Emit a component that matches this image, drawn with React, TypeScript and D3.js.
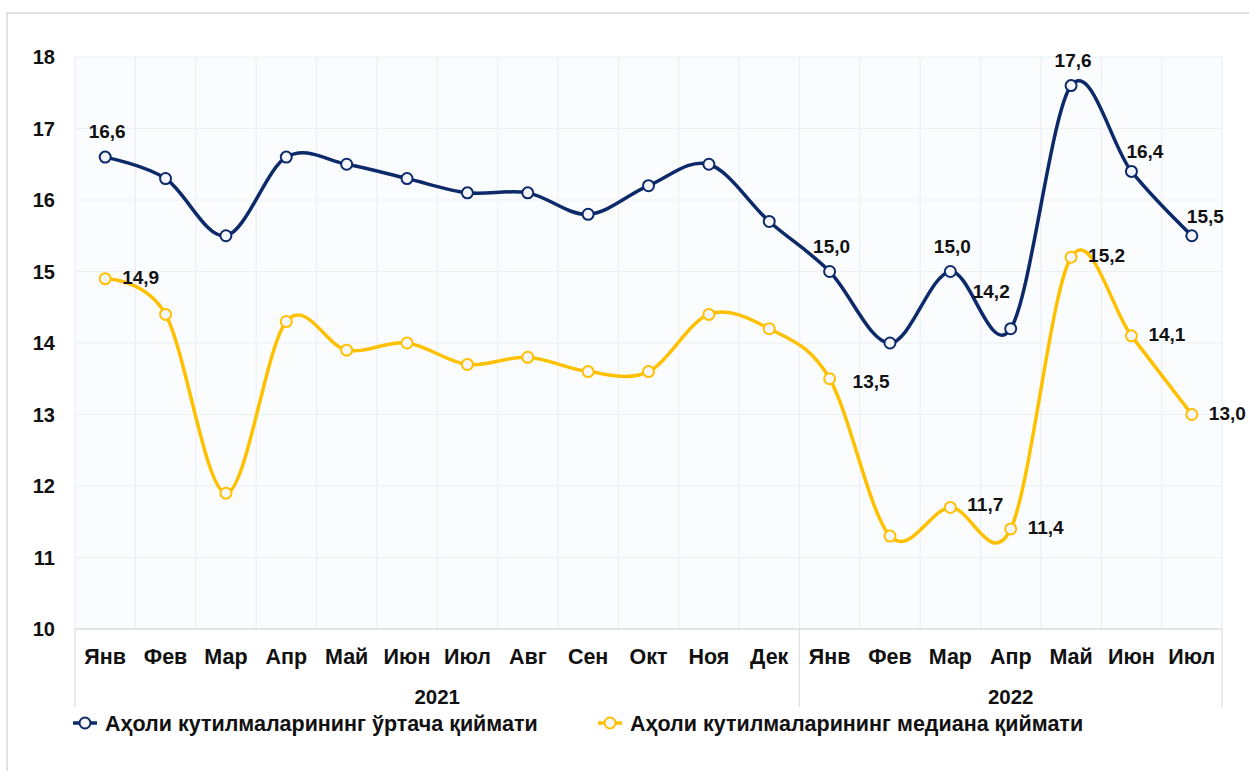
import React from 'react';
import * as d3 from 'd3';

// data
const months2021 = ['Янв', 'Фев', 'Мар', 'Апр', 'Май', 'Июн', 'Июл', 'Авг', 'Сен', 'Окт', 'Ноя', 'Дек'];
const months2022 = ['Янв', 'Фев', 'Мар', 'Апр', 'Май', 'Июн', 'Июл'];
const years = ['2021', '2022'];
const meanValues = [16.6, 16.3, 15.5, 16.6, 16.5, 16.3, 16.1, 16.1, 15.8, 16.2, 16.5, 15.7, 15.0, 14.0, 15.0, 14.2, 17.6, 16.4, 15.5];
const medianValues = [14.9, 14.4, 11.9, 14.3, 13.9, 14.0, 13.7, 13.8, 13.6, 13.6, 14.4, 14.2, 13.5, 11.3, 11.7, 11.4, 15.2, 14.1, 13.0];
const yTicks = [10, 11, 12, 13, 14, 15, 16, 17, 18];
const seriesNames = ['Аҳоли кутилмаларининг ўртача қиймати', 'Аҳоли кутилмаларининг медиана қиймати'];

// which points carry a value label, and where it sits
const meanLabels: [number, string][] = [[0, 'top'], [12, 'top'], [14, 'top'], [15, 'topleft'], [16, 'top'], [17, 'topright'], [18, 'topright']];
const medianLabels: [number, string][] = [[0, 'right'], [12, 'rightdown'], [14, 'rightup'], [15, 'right'], [16, 'right'], [17, 'right'], [18, 'right']];

const NAVY = '#0c2a69';
const GOLD = '#ffc000';
const FONT = '"Liberation Sans", Arial, sans-serif';

const width = 1249;
const height = 771;
const plot = { left: 75, right: 1222, top: 57, bottom: 629 };

const categories = [...months2021.map((m) => '2021-' + m), ...months2022.map((m) => '2022-' + m)];
const labels = [...months2021, ...months2022];

const x = d3.scaleBand<string>().domain(categories).range([plot.left, plot.right]);
const y = d3.scaleLinear().domain([10, 18]).range([plot.bottom, plot.top]);
const cx = (i: number) => (x(categories[i]) as number) + x.bandwidth() / 2;

// Excel-like smoothing
const line = d3
  .line<number>()
  .x((_, i) => cx(i))
  .y((d) => y(d))
  .curve(d3.curveCardinal.tension(0));

const fmt = (v: number) => v.toFixed(1).replace('.', ',');

function labelPos(pos: string, px: number, py: number) {
  switch (pos) {
    case 'top':
      return { x: px + 2, y: py - 19, anchor: 'middle' };
    case 'topleft':
      return { x: px - 1, y: py - 31, anchor: 'end' };
    case 'topright':
      return { x: px - 5, y: py - 13, anchor: 'start' };
    case 'rightdown':
      return { x: px + 23, y: py + 9, anchor: 'start' };
    case 'rightup':
      return { x: px + 17, y: py + 4, anchor: 'start' };
    default:
      return { x: px + 17, y: py + 5, anchor: 'start' };
  }
}

function Series({ values, color, lbls }: { values: number[]; color: string; lbls: [number, string][] }) {
  return (
    <g>
      <path d={line(values) || ''} fill="none" stroke={color} strokeWidth={3.5} />
      {values.map((v, i) => (
        <circle key={i} cx={cx(i)} cy={y(v)} r={5.5} fill="#f5f6fb" stroke={color} strokeWidth={2} />
      ))}
      {lbls.map(([i, pos]) => {
        const p = labelPos(pos, cx(i), y(values[i]));
        return (
          <text key={i} x={p.x} y={p.y} textAnchor={p.anchor} fontSize={19} fontWeight="bold" fill="#111">
            {fmt(values[i])}
          </text>
        );
      })}
    </g>
  );
}

export default function App() {
  const splitX = x(categories[months2021.length]) as number;
  const groups = [
    { name: years[0], x0: plot.left, x1: splitX },
    { name: years[1], x0: splitX, x1: plot.right },
  ];
  return (
    <div style={{ position: 'absolute', left: 0, top: 0 }}>
      <svg width={width} height={height} style={{ display: 'block', fontFamily: FONT }}>
        <rect x={0} y={0} width={width} height={height} fill="#fff" />
        <rect x={7} y={13} width={width + 20} height={height + 20} fill="#fff" stroke="#d9d9d9" strokeWidth={1.5} />
        <rect x={plot.left} y={plot.top} width={plot.right - plot.left} height={plot.bottom - plot.top} fill="#fbfcfe" />
        {yTicks.map((t) => (
          <line key={t} x1={plot.left} x2={plot.right} y1={y(t)} y2={y(t)} stroke="#eceff4" strokeWidth={1.2} />
        ))}
        {categories.map((c) => (
          <line key={c} x1={x(c)} x2={x(c)} y1={plot.top} y2={plot.bottom} stroke="#eceff4" strokeWidth={1.2} />
        ))}
        <line x1={plot.right} x2={plot.right} y1={plot.top} y2={plot.bottom} stroke="#eceff4" strokeWidth={1.2} />
        <line x1={plot.left} x2={plot.right} y1={plot.bottom} y2={plot.bottom} stroke="#dedede" strokeWidth={1.5} />
        {[plot.left, splitX, plot.right].map((sx) => (
          <line key={sx} x1={sx} x2={sx} y1={plot.bottom} y2={707} stroke="#dedede" strokeWidth={1.2} />
        ))}
        {yTicks.map((t) => (
          <text key={t} x={55} y={y(t)} dy="0.36em" textAnchor="end" fontSize={20} fontWeight="bold" fill="#111">
            {t}
          </text>
        ))}
        {categories.map((c, i) => (
          <text key={c} x={cx(i)} y={664} textAnchor="middle" fontSize={21.5} fontWeight="bold" fill="#111">
            {labels[i]}
          </text>
        ))}
        {groups.map((g) => (
          <text key={g.name} x={(g.x0 + g.x1) / 2} y={704} textAnchor="middle" fontSize={20.5} fontWeight="bold" fill="#111">
            {g.name}
          </text>
        ))}
        <Series values={meanValues} color={NAVY} lbls={meanLabels} />
        <Series values={medianValues} color={GOLD} lbls={medianLabels} />
        {[
          { name: seriesNames[0], color: NAVY, x0: 73 },
          { name: seriesNames[1], color: GOLD, x0: 598 },
        ].map((l) => (
          <g key={l.name}>
            <line x1={l.x0} x2={l.x0 + 24} y1={723} y2={723} stroke={l.color} strokeWidth={3.5} />
            <circle cx={l.x0 + 12} cy={723} r={5.5} fill="#f5f6fb" stroke={l.color} strokeWidth={2} />
            <text x={l.x0 + 32} y={730.5} fontSize={21.5} fontWeight="bold" fill="#111">
              {l.name}
            </text>
          </g>
        ))}
      </svg>
    </div>
  );
}
